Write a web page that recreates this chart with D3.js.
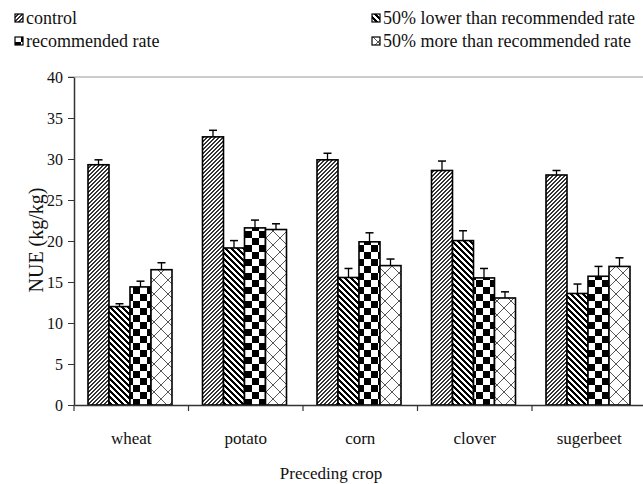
<!DOCTYPE html>
<html><head><meta charset="utf-8">
<script src="https://cdn.jsdelivr.net/npm/d3@7"></script>
<style>body{margin:0;background:#fff}svg{display:block}</style>
</head><body><svg id="c" width="643" height="484"></svg>
<script>
const categories = ["wheat","potato","corn","clover","sugerbeet"];
const seriesNames = ["control","50% lower than recommended rate","recommended rate","50% more than recommended rate"];
const control = [29.3,32.7,29.9,28.6,28.05];
const lower50 = [12.0,19.15,15.55,20.05,13.6];
const recommended = [14.4,21.6,19.9,15.5,15.7];
const more50 = [16.5,21.4,17.0,13.05,16.9];
const controlErr = [0.6,0.8,0.8,1.15,0.55];
const lower50Err = [0.35,0.9,1.1,1.2,1.15];
const recommendedErr = [0.7,0.95,1.1,1.15,1.2];
const more50Err = [0.85,0.7,0.8,0.75,1.05];
const yTicks = [0,5,10,15,20,25,30,35,40];
const yTitle = "NUE (kg/kg)";
const xTitle = "Preceding crop";

const values = [control, lower50, recommended, more50];
const errors = [controlErr, lower50Err, recommendedErr, more50Err];
const FONT = "'Liberation Serif', 'Times New Roman', serif";

const svg = d3.select("#c");
const defs = svg.append("defs");

function pixPattern(id, size, pixels, color, bg){
  const p = defs.append("pattern").attr("id", id).attr("patternUnits","userSpaceOnUse")
    .attr("width", size).attr("height", size);
  p.append("rect").attr("width", size).attr("height", size).attr("fill", bg);
  pixels.forEach(([cx,cy,w,h]) => p.append("rect").attr("x",cx).attr("y",cy)
    .attr("width",w||1).attr("height",h||1).attr("fill",color).attr("shape-rendering","crispEdges"));
}
(function(){
  const px=[]; const n=4;
  for(let r=0;r<n;r++){ for(let k=0;k<2;k++){ px.push([(n-1-r+k+n)%n, r]); } }
  pixPattern("p0", n, px, "#333", "#fff");
})();
(function(){
  const px=[]; const n=6;
  for(let r=0;r<n;r++){ for(let k=0;k<3;k++){ px.push([(r+k)%n, r]); } }
  pixPattern("p1", n, px, "#000", "#fff");
})();
pixPattern("p2", 14, [[0,0,7,7],[7,7,7,7]], "#000", "#fff");
(function(){
  const s=14;
  const p = defs.append("pattern").attr("id","p3").attr("patternUnits","userSpaceOnUse").attr("width",s).attr("height",s);
  p.append("rect").attr("width",s).attr("height",s).attr("fill","#fff");
  p.append("path").attr("d",`M0,0L${s},${s}M${s},0L0,${s}M-1,1L1,-1M${s-1},${s+1}L${s+1},${s-1}`)
    .attr("stroke","#555").attr("stroke-width",1).attr("fill","none");
})();
const fills = ["url(#p0)","url(#p1)","url(#p2)","url(#p3)"];

const y = d3.scaleLinear().domain([0,40]).range([405,77]);
const x = d3.scaleBand().domain(categories).range([74, 646.5]).padding(0);
const xs = d3.scaleBand().domain(d3.range(4)).range([14, 98]).padding(0);

svg.append("line").attr("x1",68).attr("x2",643).attr("y1",y(40)).attr("y2",y(40))
  .attr("stroke","#999").attr("stroke-width",1);

const g = svg.append("g");
categories.forEach((c, i) => {
  values.forEach((s, j) => {
    const bx = x(c) + xs(j);
    const bw = xs.bandwidth();
    g.append("rect").attr("x", bx).attr("y", y(s[i])).attr("width", bw)
      .attr("height", y(0) - y(s[i])).attr("fill", fills[j])
      .attr("stroke","#000").attr("stroke-width",1.6);
    const cx = bx + bw/2;
    const top = y(s[i] + errors[j][i]);
    g.append("line").attr("x1",cx).attr("x2",cx).attr("y1",y(s[i])).attr("y2",top)
      .attr("stroke","#000").attr("stroke-width",1.3);
    g.append("line").attr("x1",cx-4).attr("x2",cx+4).attr("y1",top).attr("y2",top)
      .attr("stroke","#000").attr("stroke-width",1.5);
  });
});

const ya = svg.append("g").attr("transform","translate(74,0)")
  .call(d3.axisLeft(y).tickValues(yTicks).tickSize(6).tickSizeOuter(0).tickPadding(5));
ya.attr("font-family", FONT);
ya.select(".domain").attr("stroke","#333").attr("stroke-width",1.5);
ya.selectAll(".tick line").attr("stroke","#333");
ya.selectAll(".tick text").attr("font-size",16).attr("font-family",FONT).attr("fill","#111");

const xa = svg.append("g").attr("transform","translate(0,405)")
  .call(d3.axisBottom(x).tickSize(0).tickPadding(27).tickSizeOuter(0));
xa.attr("font-family", FONT);
xa.select(".domain").attr("stroke","#333").attr("stroke-width",1.5);
xa.selectAll(".tick text").attr("font-size",17).attr("font-family",FONT).attr("fill","#111");
const bounds = categories.map(c => x(c)).concat([x.range()[1]]);
svg.append("g").selectAll("line").data(bounds).join("line")
  .attr("x1",d=>d).attr("x2",d=>d).attr("y1",405).attr("y2",411)
  .attr("stroke","#333").attr("stroke-width",1.2);

svg.append("text").attr("x",331).attr("y",479).attr("text-anchor","middle")
  .attr("font-family",FONT).attr("font-size",17).attr("fill","#111").text(xTitle);
svg.append("text").attr("transform","translate(43,240) rotate(-90)").attr("text-anchor","middle")
  .attr("font-family",FONT).attr("font-size",20).attr("fill","#111").text(yTitle);

const legendPos = [[15,24],[372,24],[15,47],[372,47]];
seriesNames.forEach((n, j) => {
  const [lx, ly] = legendPos[j];
  svg.append("rect").attr("x",lx).attr("y",ly-10).attr("width",8).attr("height",8)
    .attr("fill",fills[j]).attr("stroke","#000").attr("stroke-width",1.2);
  svg.append("text").attr("x",lx+11).attr("y",ly).attr("font-family",FONT)
    .attr("font-size",18).attr("fill","#111").text(n);
});
</script></body></html>
